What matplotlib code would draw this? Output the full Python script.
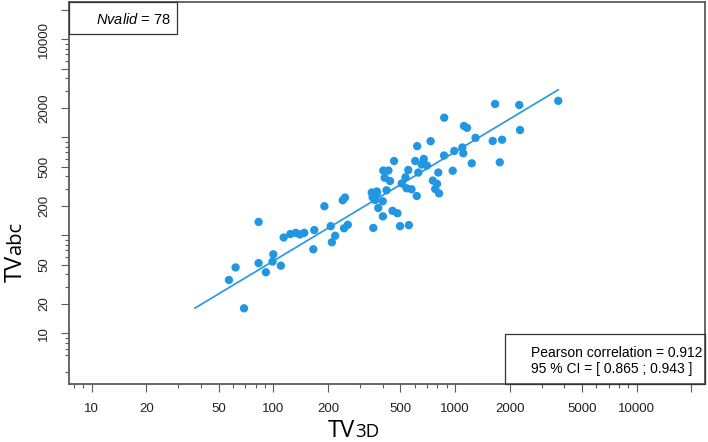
import matplotlib
matplotlib.use("Agg")
import matplotlib.pyplot as plt
from matplotlib.patches import Rectangle
from matplotlib.ticker import FixedLocator, FixedFormatter, LogLocator, NullFormatter
import numpy as np

plt.rcParams["font.family"] = ["Liberation Sans", "DejaVu Sans"]
plt.rcParams["mathtext.fontset"] = "custom"
plt.rcParams["mathtext.it"] = "Liberation Sans:italic"
plt.rcParams["mathtext.rm"] = "Liberation Sans"

# volumes
tv_3d = [57, 62, 69, 83, 83, 91, 100, 99, 110, 114, 124, 133, 140, 148, 168, 166,
         191, 207, 219, 210, 241, 248, 245, 257, 355, 348, 371, 352, 363, 378,
         400, 401, 403, 430, 410, 439, 420, 462, 453, 482, 498, 557, 509, 534,
         553, 541, 576, 616, 619, 604, 628, 673, 656, 700, 734, 755, 796, 778,
         817, 809, 872, 870, 971, 991, 1097, 1110, 1121, 1165, 1236, 1297, 1613,
         1815, 1763, 1661, 2256, 2279, 3700, 372]
tv_abc = [35, 47, 18, 137, 52, 42, 64, 54, 49, 95, 103, 106, 102, 106, 113, 72,
          198, 124, 99, 85, 228, 243, 118, 128, 119, 273, 280, 244, 229, 190,
          223, 156, 458, 458, 387, 358, 288, 573, 178, 168, 124, 127, 338, 391,
          464, 302, 295, 252, 812, 573, 437, 602, 528, 516, 913, 362, 335, 297,
          268, 437, 1585, 652, 456, 726, 787, 687, 1304, 1250, 543, 988, 917,
          945, 556, 2187, 2136, 1187, 2357, 270]

n_valid = 78
pearson_r = 0.912
ci_low, ci_high = 0.865, 0.943

# fitted line in log10 space
fit_slope, fit_intercept = 1.114, -0.49
fit_x = [37, 3700]

x_major = [10, 20, 50, 100, 200, 500, 1000, 2000, 5000, 10000, 20000]
x_labels = ["10", "20", "50", "100", "200", "500", "1000", "2000", "5000", "10000", ""]
y_major = [10, 20, 50, 100, 200, 500, 1000, 2000, 5000, 10000, 20000]
y_labels = ["10", "20", "50", "", "200", "500", "", "2000", "", "10000", ""]

blue = "#2196e3"
frame = "#5a5a5a"

fig = plt.figure(figsize=(7.08, 4.42), dpi=100)
ax = fig.add_axes([0.0975, 0.1312, 0.8987, 0.8654])

ax.scatter(tv_3d, tv_abc, s=36, color=blue, edgecolors="none", zorder=3)
lx = np.log10(fit_x)
ax.plot(fit_x, 10 ** (fit_slope * lx + fit_intercept), color=blue, lw=1.2, zorder=2)

ax.set_xscale("log")
ax.set_yscale("log")
ax.set_xlim(7.51, 23850)
ax.set_ylim(3.04, 24300)

ax.xaxis.set_major_locator(FixedLocator(x_major))
ax.xaxis.set_major_formatter(FixedFormatter(x_labels))
ax.yaxis.set_major_locator(FixedLocator(y_major))
ax.yaxis.set_major_formatter(FixedFormatter(y_labels))
for axis in (ax.xaxis, ax.yaxis):
    axis.set_minor_locator(LogLocator(base=10, subs=(3, 4, 6, 7, 8, 9)))
    axis.set_minor_formatter(NullFormatter())

ax.tick_params(which="major", length=5.5, width=0.8, color=frame,
               labelsize=9.5, labelcolor="#222222", pad=8)
ax.tick_params(which="minor", length=3.1, width=0.8, color=frame)
for lab in ax.get_yticklabels():
    lab.set_rotation(90)
    lab.set_va("center")

for sp in ax.spines.values():
    sp.set_color(frame)
    sp.set_linewidth(1.3)

# corner boxes
ax.add_patch(Rectangle((0, 0.9138), 0.1698, 0.0862, transform=ax.transAxes,
                       fill=False, ec="#333333", lw=0.9, clip_on=False, zorder=4))
ax.text(0.16, 0.9418, r"$\mathit{Nvalid}$ = " + str(n_valid),
        transform=ax.transAxes, ha="right", va="baseline", fontsize=10.5)

ax.add_patch(Rectangle((0.6855, 0), 0.3145, 0.1305, transform=ax.transAxes,
                       fill=False, ec="#333333", lw=0.9, clip_on=False, zorder=4))
ax.text(0.726, 0.0715, f"Pearson correlation = {pearson_r:.3f}",
        transform=ax.transAxes, ha="left", va="baseline", fontsize=10)
ax.text(0.726, 0.0282, f"95 % CI = [ {ci_low:.3f} ; {ci_high:.3f} ]",
        transform=ax.transAxes, ha="left", va="baseline", fontsize=10)

# axis titles with small trailing part on the same baseline
tx = fig.text(328 / 708, 1 - 437.3 / 442, "TV", fontsize=17, family="Open Sans",
              ha="left", va="baseline")
ax.annotate("3D", xy=(1, 0), xycoords=tx, xytext=(0, 1.5), textcoords="offset points",
            fontsize=13.5, family="Open Sans", ha="left", va="bottom")

ty = fig.text(22 / 708, 1 - 282 / 442, "TV", fontsize=17, family="Open Sans",
              rotation=90, rotation_mode="anchor", ha="left", va="baseline")
ax.annotate("abc", xy=(1, 1), xycoords=ty, xytext=(-1.5, 0), textcoords="offset points",
            fontsize=14.5, family="Open Sans", rotation=90, ha="right", va="bottom")

fig.savefig("out.png", dpi=100)
